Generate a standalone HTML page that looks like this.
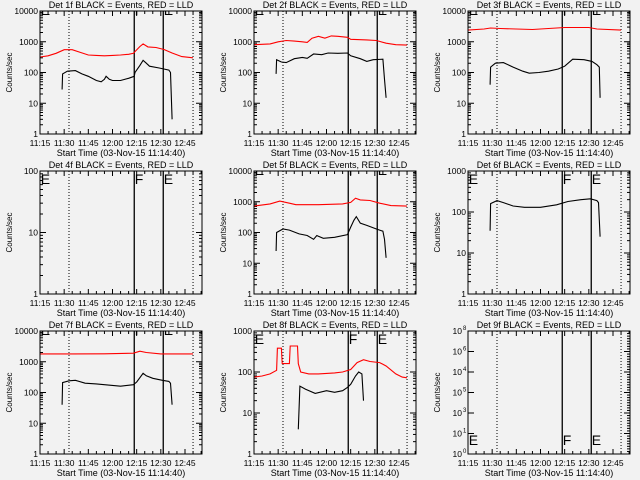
<!DOCTYPE html>
<html><head><meta charset="utf-8">
<style>
html,body{margin:0;padding:0;background:#f2f2f2;}
svg{display:block;font-family:"Liberation Sans",sans-serif;}
</style></head>
<body>
<svg id="c" width="640" height="480" viewBox="0 0 640 480" xmlns="http://www.w3.org/2000/svg">
<rect width="640" height="480" fill="#f2f2f2"/>
</svg>
<script>
const xTickLabels=["11:15","11:30","11:45","12:00","12:15","12:30","12:45"];
const xTickMinutes=[0,15,30,45,60,75,90];
const markerDotted=[18,95];
const markerSolid=[58.5,76.5];
const markerLetters=["E","F","E"];
const markerLetterMinutes=[0.5,58.8,76.8];

const p1RedT=[0,5,10,15,20,25,30,35,40,45,50,55,58,62,64,67,72,77,82,88,95];
const p1RedV=[320,350,420,550,550,450,370,360,350,360,370,390,420,700,850,680,650,560,430,330,300];
const p1BlkT=[13.7,14,17,22,26,30,35,38,40,41,43,45,50,55,58.5,59,62,64,66,68,74,80,81,82];
const p1BlkV=[28,90,110,115,90,75,55,50,60,75,60,55,55,65,75,100,170,250,200,160,140,120,100,3];

const p2RedT=[0,10,15,20,25,30,33,36,40,44,48,52,58,60,70,76,82,88,95];
const p2RedV=[800,850,1000,1100,1050,1000,950,1300,1500,1300,1550,1500,1400,1200,1150,1100,900,800,780];
const p2BlkT=[13.7,14,17,20,25,30,33,37,42,46,52,58,60,66,70,74,80,81,82];
const p2BlkV=[90,260,220,210,280,310,290,400,380,430,420,430,350,280,230,260,270,60,15];

const p3RedT=[0,10,14,20,40,50,60,75,80,95];
const p3RedV=[2400,2600,2800,2700,2500,2700,2900,2900,2600,2400];
const p3BlkT=[13.7,14,17,22,28,34,38,44,50,56,60,65,72,77,80,81.5,82];
const p3BlkV=[40,150,200,210,150,110,95,100,110,130,160,270,260,230,180,150,15];

const p5RedT=[0,10,16,22,26,40,55,60,63,66,72,78,85,95];
const p5RedV=[720,850,1050,900,800,800,850,950,1300,1150,1100,900,750,720];
const p5BlkT=[13.7,14,18,22,28,33,37,39,40,43,50,58,60,62,63.5,66,70,76,80,81,82];
const p5BlkV=[25,100,130,120,90,80,60,80,75,65,70,85,150,250,330,200,170,130,110,60,15];

const p6BlkT=[13.7,14,18,22,28,35,45,55,62,70,76,80,81,82];
const p6BlkV=[35,160,190,170,140,130,130,150,180,200,210,190,170,25];

const p7RedT=[0,20,40,58,62,66,75,95];
const p7RedV=[1800,1800,1820,1900,2200,2000,1800,1800];
const p7BlkT=[13.7,14,18,22,28,35,40,45,50,58,60,64,66,70,76,80,81,82];
const p7BlkV=[40,210,240,250,200,190,180,170,160,180,220,420,350,290,250,230,200,40];

const p8RedT=[0,5,10,14,14.5,17,17.5,22,22.5,27,27.5,29,34,40,50,55,60,64,68,72,78,82,88,92,95];
const p8RedV=[75,80,90,110,380,380,160,160,430,430,160,100,90,90,95,100,115,170,200,180,170,140,90,75,72];
const p8BlkT=[27.5,28.5,32,38,45,50,55,58,60,63,65,67,68];
const p8BlkV=[4,45,38,30,35,32,35,42,50,80,100,90,20];

const p9TickLabels=["8","6","4","5","3","1","0"];

const panels=[
 {n:"1f",lo:0,hi:4,red:[p1RedT,p1RedV],blk:[p1BlkT,p1BlkV],letters:"top"},
 {n:"2f",lo:0,hi:4,red:[p2RedT,p2RedV],blk:[p2BlkT,p2BlkV],letters:"top"},
 {n:"3f",lo:0,hi:4,red:[p3RedT,p3RedV],blk:[p3BlkT,p3BlkV],letters:"top"},
 {n:"4f",lo:0,hi:2,red:null,blk:null,letters:"full"},
 {n:"5f",lo:0,hi:4,red:[p5RedT,p5RedV],blk:[p5BlkT,p5BlkV],letters:"top"},
 {n:"6f",lo:0,hi:3,red:null,blk:[p6BlkT,p6BlkV],letters:"full"},
 {n:"7f",lo:0,hi:4,red:[p7RedT,p7RedV],blk:[p7BlkT,p7BlkV],letters:"top"},
 {n:"8f",lo:0,hi:3,red:[p8RedT,p8RedV],blk:[p8BlkT,p8BlkV],letters:"full"},
 {n:"9f",lo:0,hi:6,red:null,blk:null,letters:"bottom",weird:true}
];
const svg=document.getElementById('c');
const NS="http://www.w3.org/2000/svg";
const W=162,H=123,PXMIN=1.611;
const colX=[40,254,468],rowY=[11,171,331];
function mk(tag,attrs,parent){const e=document.createElementNS(NS,tag);for(const k in attrs)e.setAttribute(k,attrs[k]);(parent||svg).appendChild(e);return e;}

panels.forEach((p,i)=>{
 const x0=colX[i%3],y0=rowY[Math.floor(i/3)];
 const g=mk('g',{});
 
 
 const xs=t=>x0+t*PXMIN;
 const ys=v=>y0+H-(Math.log10(v)-p.lo)/(p.hi-p.lo)*H;
 const cid='clip'+i;
 const cp=mk('clipPath',{id:cid},g);mk('rect',{x:x0,y:y0,width:W,height:H},cp);
 const tt=mk('text',{x:x0+W/2,y:y0-3,'text-anchor':'middle','font-size':9,fill:'#000'},g);
 tt.textContent='Det '+p.n+' BLACK = Events, RED = LLD';
 
 
 xTickMinutes.forEach((m,k)=>{
  const x=xs(m);
  mk('line',{x1:x,y1:y0+H,x2:x,y2:y0+H-5,stroke:'#000','stroke-width':1},g);
  mk('line',{x1:x,y1:y0,x2:x,y2:y0+5,stroke:'#000','stroke-width':1},g);
  for(let s=1;s<3;s++){const xm=xs(m+s*5);if(xm<x0+W){mk('line',{x1:xm,y1:y0+H,x2:xm,y2:y0+H-3,stroke:'#000'},g);mk('line',{x1:xm,y1:y0,x2:xm,y2:y0+3,stroke:'#000'},g);}}
  const lb=mk('text',{x:x,y:y0+H+12,'text-anchor':'middle','font-size':8.5,fill:'#000'},g);
  lb.textContent=xTickLabels[k];
  
  
 });
 const xl=mk('text',{x:x0+W/2,y:y0+H+22,'text-anchor':'middle','font-size':9,fill:'#000'},g);
 xl.textContent='Start Time (03-Nov-15 11:14:40)';
 
 
 const yl=mk('text',{x:0,y:0,'text-anchor':'middle','font-size':8,fill:'#000',transform:`translate(${x0-28},${y0+H/2}) rotate(-90)`},g);
 yl.textContent='Counts/sec';
 
 
 if(!p.weird){
  for(let d=p.lo;d<=p.hi;d++){
   const y=ys(Math.pow(10,d));
   mk('line',{x1:x0,y1:y,x2:x0+6,y2:y,stroke:'#000'},g);
   mk('line',{x1:x0+W,y1:y,x2:x0+W-6,y2:y,stroke:'#000'},g);
   if(d<p.hi){for(let m=2;m<10;m++){const ym=ys(m*Math.pow(10,d));mk('line',{x1:x0,y1:ym,x2:x0+3,y2:ym,stroke:'#000'},g);mk('line',{x1:x0+W,y1:ym,x2:x0+W-3,y2:ym,stroke:'#000'},g);}}
   const lb=mk('text',{x:x0-2,y:y+3,'text-anchor':'end','font-size':8.5,fill:'#000'},g);
   lb.textContent=String(Math.pow(10,d));
   
   
  }
 } else {
  p9TickLabels.forEach((s,k)=>{
   const y=y0+k*H/(p9TickLabels.length-1);
   mk('line',{x1:x0,y1:y,x2:x0+6,y2:y,stroke:'#000'},g);
   mk('line',{x1:x0+W,y1:y,x2:x0+W-6,y2:y,stroke:'#000'},g);
   for(let m=1;m<8;m++){const ym=y+m*H/(p9TickLabels.length-1)/8;if(ym<y0+H){mk('line',{x1:x0+W,y1:ym,x2:x0+W-3,y2:ym,stroke:'#000'},g);}}
   const lb=mk('text',{x:x0-6,y:y+3,'text-anchor':'end','font-size':8.5,fill:'#000'},g);
   lb.textContent='10';
   
   
   const sp=mk('text',{x:x0-5,y:y-1,'font-size':6,fill:'#000'},g);
   sp.textContent=s;
  });
 }
 markerDotted.forEach(m=>{mk('line',{x1:xs(m),y1:y0,x2:xs(m),y2:y0+H,stroke:'#000','stroke-dasharray':'1,2'},g);});
 markerSolid.forEach(m=>{mk('line',{x1:xs(m),y1:y0,x2:xs(m),y2:y0+H,stroke:'#000','stroke-width':1.3},g);});
 const lg=mk('g',{'clip-path':`url(#${cid})`},g);
 markerLetters.forEach((L,k)=>{
  let y=p.letters==="top"?y0+4:(p.letters==="full"?y0+13:y0+H-9);
  const t=mk('text',{x:xs(markerLetterMinutes[k]),y:y,'font-size':14,fill:'#000'},lg);
  t.textContent=L;
  
  
 });
 const sg=mk('g',{'clip-path':`url(#${cid})`},g);
 function line(arr,color,name){
  const pts=arr[0].map((t,k)=>xs(t).toFixed(1)+','+ys(arr[1][k]).toFixed(1)).join(' ');
  const pl=mk('polyline',{points:pts,fill:'none',stroke:color,'stroke-width':1.1},sg);
  
  
 }
 if(p.red)line(p.red,'#ff0000','lld-series');
 if(p.blk)line(p.blk,'#000000','events-series');
 mk('rect',{x:x0,y:y0,width:W,height:H,fill:'none',stroke:'#000','stroke-width':1},g);
});
</script>
</body></html>
